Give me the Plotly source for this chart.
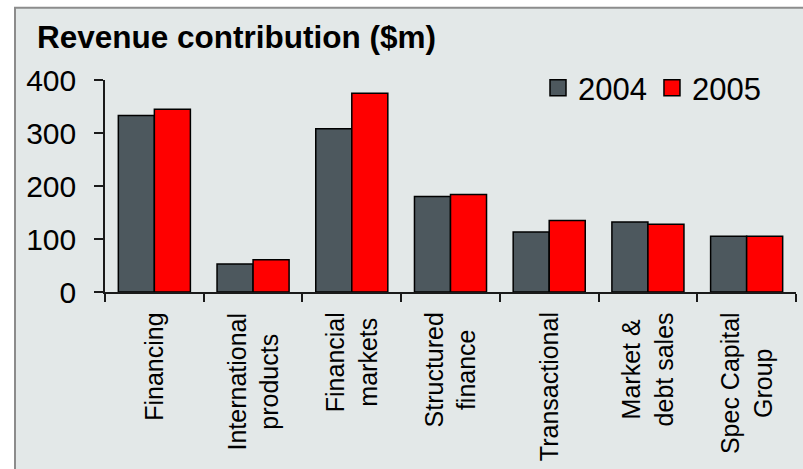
import plotly.graph_objects as go

# Revenue contribution by business line, $m
categories = [
    "Financing",
    "International\nproducts",
    "Financial\nmarkets",
    "Structured\nfinance",
    "Transactional",
    "Market &\ndebt sales",
    "Spec Capital\nGroup",
]
rev_2004 = [333, 53, 308, 180, 113, 132, 105]
rev_2005 = [345, 61, 375, 184, 135, 128, 105]
y_ticks = [0, 100, 200, 300, 400]

COL_2004 = "#4D585E"
COL_2005 = "#FF0000"
BG = "#E3E8E8"
FONT = "Liberation Sans, Arial, sans-serif"

W, H = 803, 469
L, R, T, B = 105, 7, 80, 176.5
PW, PH = W - L - R, H - T - B


def px_x(px):
    return (px - L) / PW


def px_y(py):
    return (H - B - py) / PH


keys = [c.replace("\n", " ") for c in categories]

fig = go.Figure()
fig.add_trace(go.Bar(x=keys, y=rev_2004, name="2004", marker=dict(color=COL_2004, line=dict(color="black", width=1.5)), showlegend=False))
fig.add_trace(go.Bar(x=keys, y=rev_2005, name="2005", marker=dict(color=COL_2005, line=dict(color="black", width=1.5)), showlegend=False))

# legend entries with larger square swatches
for name, col in (("2004", COL_2004), ("2005", COL_2005)):
    fig.add_trace(go.Scatter(
        x=[keys[0]], y=[None], mode="markers", name=name,
        marker=dict(symbol="square", size=17, color=col, line=dict(color="black", width=1.5)),
    ))

# category labels, rotated, lines centred on each other
for key, label in zip(keys, categories):
    fig.add_annotation(
        x=key, xref="x", y=px_y(311), yref="paper",
        text=label.replace("\n", "<br>"), showarrow=False,
        textangle=-90, xanchor="center", yanchor="top", align="center",
        font=dict(family=FONT, size=25, color="black"),
    )

# framed light panel behind the chart
fig.add_shape(
    type="rect", xref="paper", yref="paper",
    x0=px_x(15), x1=px_x(806), y0=px_y(472), y1=px_y(7.5),
    fillcolor=BG, line=dict(color="#8C8C8C", width=2), layer="below",
)

fig.update_layout(
    width=W, height=H,
    margin=dict(l=L, r=R, t=T, b=B, autoexpand=False),
    paper_bgcolor="white", plot_bgcolor="rgba(0,0,0,0)",
    bargap=0.27, bargroupgap=0,
    font=dict(family=FONT, color="black"),
    title=dict(
        text="<b>Revenue contribution ($m)</b>",
        x=37 / W, xanchor="left", xref="container",
        y=1 - 37 / H, yanchor="middle", yref="container",
        font=dict(family=FONT, size=31.5, color="black"),
    ),
    legend=dict(
        orientation="h", x=px_x(538), xanchor="left",
        y=px_y(88), yanchor="middle",
        font=dict(family=FONT, size=31, color="black"),
        bgcolor="rgba(0,0,0,0)", itemclick=False, tracegroupgap=0,
    ),
    showlegend=True,
)

fig.update_xaxes(
    type="category", showticklabels=False, showgrid=False, zeroline=False,
    showline=True, linecolor="#1A1A1A", linewidth=1.5,
    ticks="outside", tickson="boundaries", ticklen=8, tickwidth=1.5, tickcolor="#1A1A1A",
)
fig.update_yaxes(
    range=[0, 400], tickvals=y_ticks, showgrid=False, zeroline=False,
    showline=True, linecolor="#1A1A1A", linewidth=1.5,
    ticks="outside", ticklen=9, tickwidth=1.5, tickcolor="#1A1A1A",
    tickfont=dict(family=FONT, size=30, color="black"), ticklabelstandoff=12,
)

fig.write_html("out.html")
